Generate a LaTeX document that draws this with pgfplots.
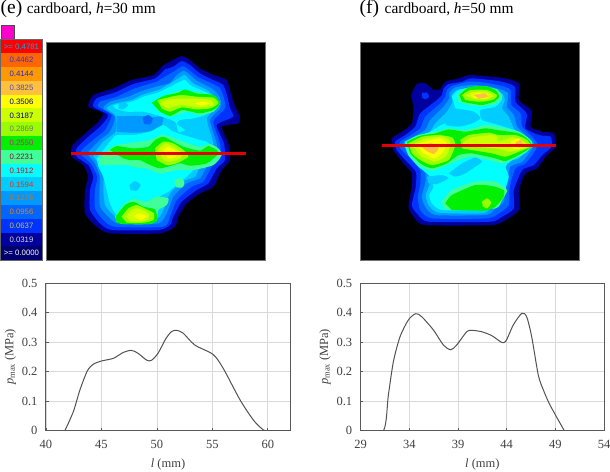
\documentclass[border=0pt]{standalone}
\usepackage{fontspec}
\setmainfont{Liberation Serif}
\newfontfamily\legfont{Liberation Sans}
\usepackage{pgfplots}
\pgfplotsset{compat=1.18}
\definecolor{c0}{HTML}{00006E}
\definecolor{c1}{HTML}{00009E}
\definecolor{c2}{HTML}{0033FF}
\definecolor{c3}{HTML}{0066FF}
\definecolor{c4}{HTML}{0099FF}
\definecolor{c5}{HTML}{00CCFF}
\definecolor{c6}{HTML}{00FFFF}
\definecolor{c7}{HTML}{40FF99}
\definecolor{c8}{HTML}{00F000}
\definecolor{c9}{HTML}{99FF00}
\definecolor{c10}{HTML}{CCFF00}
\definecolor{c11}{HTML}{FFFF00}
\definecolor{c12}{HTML}{FFC040}
\definecolor{c13}{HTML}{FF9900}
\definecolor{c14}{HTML}{FF6600}
\definecolor{c15}{HTML}{FF0000}
\definecolor{tbrown}{HTML}{C8741E}
\newcommand{\poly}[2]{\addplot[fill=#1,draw=none,forget plot,smooth,tension=0.35] coordinates {#2} --cycle;}
\newcommand{\band}[5]{\addplot[fill=#1,draw=none,forget plot] coordinates {(3,#2)(126,#2)(126,#3)(3,#3)} --cycle;
\node[font=\legfont\fontsize{7.8}{8}\selectfont,text=#5,inner sep=0pt] at (axis cs:64.5,{(#2+#3)/2}) {#4};}
\pgfplotsset{
 heat/.style={scale only axis,width=219pt,height=218.3pt,y dir=reverse,ymin=127,ymax=782,
  ticks=none,axis background/.style={fill=black},axis line style={draw=black!55,line width=0.8pt},clip=true},
 prof/.style={scale only axis,height=147.7pt,ymin=0,ymax=0.5,ytick={0,0.1,0.2,0.3,0.4,0.5},
  /pgf/number format/assume math mode=true,
  /pgf/number format/fixed,
  tick label style={font=\fontsize{12.5}{13}\selectfont,text=black!75},
  yticklabel style={xshift=-5pt},
  xticklabel style={yshift=-6pt},
  label style={font=\fontsize{12.5}{13}\selectfont,text=black!75},
  xlabel style={yshift=-3.5pt},
  ylabel style={yshift=-1pt},
  xmajorgrids,ymajorgrids,grid style={draw=black!15,line width=0.8pt},
  axis line style={draw=black!65,line width=1pt},
  tick style={draw=black!65,line width=0.7pt},tick align=inside,major tick length=2.5pt,
  xtick pos=bottom,ytick pos=left,
  ylabel={\textit{p}\raisebox{-1.5pt}{\fontsize{8.5}{9}\selectfont max} (MPa)},
  xlabel={\textit{l} (mm)}},
 pline/.style={draw=black!68,line width=1pt,smooth,tension=0.45,no marks}
}
\begin{document}
\begin{tikzpicture}
\useasboundingbox (0,0) rectangle (610pt,471pt);
% titles
\node[anchor=base west,inner sep=0pt,font=\fontsize{19.5}{20}\selectfont] at (0.5pt,457pt) {(e)};
\node[anchor=base west,inner sep=0pt,font=\fontsize{15.4}{16}\selectfont] at (26.7pt,457pt) {cardboard, \textit{h}=30 mm};
\node[anchor=base west,inner sep=0pt,font=\fontsize{19.5}{20}\selectfont] at (359.5pt,457pt) {(f)};
\node[anchor=base west,inner sep=0pt,font=\fontsize{15.4}{16}\selectfont] at (384.5pt,457pt) {cardboard, \textit{h}=50 mm};
% legend
\begin{axis}[at={(0pt,209.3pt)},anchor=south west,scale only axis,width=43.33pt,height=238.33pt,
 xmin=0,xmax=130,ymin=70,ymax=785,y dir=reverse,hide axis,clip=false]
\addplot[fill={rgb,255:red,255;green,0;blue,204},draw=black!70,line width=0.7pt,forget plot] coordinates {(3,77)(42,77)(42,118)(3,118)} --cycle;
\addplot[fill=black!60,draw=none,forget plot] coordinates {(0,117)(128,117)(128,782)(0,782)} --cycle;
\band{c15}{120}{160}{>= 0.4781}{cyan}
\band{c14}{160}{201}{0.4462}{blue!60!gray}
\band{c13}{201}{242}{0.4144}{blue!70!gray}
\band{c12}{242}{284}{0.3825}{blue!40!gray}
\band{c11}{284}{325}{0.3506}{blue!50!black}
\band{c10}{325}{367}{0.3187}{blue!50!black}
\band{c9}{367}{408}{0.2869}{black!55}
\band{c8}{408}{449}{0.2550}{magenta!90!black}
\band{c7}{449}{491}{0.2231}{purple!85!black}
\band{c6}{491}{532}{0.1912}{red!70!purple}
\band{c5}{532}{574}{0.1594}{red!70!orange}
\band{c4}{574}{615}{0.1275}{tbrown}
\band{c3}{615}{657}{0.0956}{orange!85!gray}
\band{c2}{657}{698}{0.0637}{yellow!50!gray}
\band{c1}{698}{739}{0.0319}{black!15}
\band{c0}{739}{780}{>= 0.0000}{white}
\end{axis}
% heat map (e)
\begin{axis}[heat,at={(46pt,210.3pt)},anchor=south west,xmin=138,xmax=795]
\poly{c1}{(515,182)(545,168)(570,180)(600,205)(640,225)(680,240)(695,290)(705,320)(720,350)(715,370)(665,380)(685,430)(690,480)(665,510)(640,560)(600,580)(560,610)(535,650)(525,680)(480,700)(330,700)(290,680)(255,640)(255,570)(265,530)(250,495)(215,470)(215,440)(250,405)(290,370)(310,340)(265,320)(280,285)(340,265)(395,240)(460,225)(490,195)}
\poly{c2}{(520,200)(545,183)(570,195)(600,220)(640,240)(670,255)(682,290)(690,325)(700,350)(650,375)(672,430)(675,480)(650,505)(625,550)(590,570)(545,605)(520,650)(510,675)(475,690)(335,690)(300,670)(270,630)(270,570)(280,530)(265,495)(230,470)(230,445)(265,410)(300,380)(325,345)(280,320)(290,295)(345,277)(400,252)(465,235)(495,208)}
\poly{c3}{(525,212)(548,198)(565,208)(595,232)(635,250)(660,265)(672,295)(675,325)(640,365)(660,430)(662,475)(635,500)(610,545)(575,560)(530,600)(510,650)(490,680)(345,680)(310,660)(285,625)(285,570)(292,530)(272,490)(245,465)(245,450)(285,415)(315,390)(335,345)(295,320)(300,305)(350,290)(405,265)(470,245)}
\poly{c4}{(530,225)(550,212)(565,220)(590,242)(630,262)(650,278)(662,300)(660,325)(630,360)(650,430)(650,470)(620,500)(600,535)(560,550)(520,590)(500,640)(475,670)(355,670)(325,650)(300,620)(298,570)(300,530)(285,490)(265,465)(265,455)(300,420)(330,395)(345,350)(310,325)(330,305)(385,290)(420,275)(475,258)(510,250)}
\poly{c5}{(540,232)(555,225)(580,250)(625,272)(640,290)(655,305)(650,325)(620,355)(640,430)(638,470)(605,490)(585,530)(545,545)(510,580)(490,630)(465,660)(365,660)(335,640)(315,615)(310,570)(310,530)(295,490)(280,465)(310,425)(345,398)(350,375)(345,345)(320,325)(340,312)(395,300)(425,285)(480,268)}
\poly{c4}{(350,348)(430,348)(455,352)(490,350)(480,385)(440,395)(400,398)(350,395)}
\poly{c3}{(428,352)(445,345)(458,355)(452,372)(432,372)}
\poly{c6}{(340,315)(395,305)(430,290)(480,275)(540,245)(555,240)(575,258)(625,280)(650,305)(645,325)(615,345)(580,355)(540,360)(530,372)(555,390)(535,395)(525,365)(470,345)(430,335)(380,335)(345,325)}
\poly{c6}{(290,475)(330,425)(350,405)(400,405)(450,395)(490,375)(520,395)(600,420)(620,425)(635,440)(640,470)(610,480)(580,510)(560,530)(530,555)(505,575)(480,590)(460,640)(440,655)(370,655)(345,640)(330,610)(320,570)(310,530)(295,500)}
\poly{c5}{(355,310)(370,305)(385,315)(370,328)(355,325)}
\poly{c5}{(388,555)(405,543)(422,555)(410,572)(392,570)}
\poly{c7}{(460,310)(490,290)(540,272)(580,275)(640,285)(660,310)(640,335)(600,345)(560,335)(510,350)(470,330)}
\poly{c7}{(295,478)(330,445)(350,435)(420,425)(450,420)(485,405)(510,410)(550,425)(600,440)(630,432)(655,445)(665,465)(640,495)(580,510)(530,510)(480,520)(440,505)(420,505)(380,495)(330,495)(300,495)}
\poly{c7}{(522,545)(538,533)(553,545)(548,562)(528,562)}
\poly{c7}{(345,650)(370,615)(400,597)(440,605)(470,590)(505,595)(500,615)(475,630)(470,660)(450,672)(370,672)(350,665)}
\poly{c8}{(330,450)(350,438)(400,445)(445,440)(465,420)(490,410)(520,425)(550,440)(600,452)(625,438)(650,450)(655,462)(620,490)(570,497)(540,490)(480,505)(440,490)(420,480)(390,480)(370,475)}
\poly{c8}{(455,308)(490,288)(535,278)(555,268)(590,280)(640,285)(660,310)(640,330)(600,340)(565,333)(545,330)(510,348)(480,335)}
\poly{c8}{(347,650)(375,615)(400,605)(430,620)(465,628)(472,660)(450,672)(375,672)(350,668)}
\poly{c9}{(465,445)(490,425)(520,430)(550,450)(565,470)(530,490)(500,495)(470,480)}
\poly{c9}{(472,300)(540,285)(590,290)(640,293)(655,310)(630,325)(590,328)(545,322)(510,335)(485,325)}
\poly{c9}{(365,650)(385,625)(410,615)(440,628)(462,640)(460,660)(430,668)(380,668)}
\poly{c10}{(475,450)(495,430)(520,440)(545,458)(540,475)(510,485)(490,480)}
\poly{c10}{(480,312)(505,298)(590,296)(630,300)(640,315)(600,322)(540,315)(505,325)}
\poly{c10}{(378,650)(395,630)(415,625)(445,640)(445,658)(420,665)(390,662)}
\poly{c11}{(490,450)(505,440)(530,455)(525,470)(505,475)}
\poly{c11}{(585,310)(605,305)(628,310)(605,317)}
\poly{c11}{(400,648)(420,640)(440,650)(420,660)}
\addplot[draw=red!90!black,line width=2.8pt,forget plot] coordinates {(213,460)(738,460)};
\end{axis}
% heat map (f)
\begin{axis}[heat,at={(360pt,210.3pt)},anchor=south west,xmin=165,xmax=820]
\poly{c1}{(405,268)(420,245)(460,235)(490,225)(540,228)(600,235)(640,250)(640,300)(665,320)(680,335)(675,380)(710,395)(745,400)(750,440)(720,470)(695,505)(660,520)(640,570)(640,630)(600,660)(560,675)(360,675)(325,650)(310,620)(320,560)(320,520)(295,490)(265,450)(260,415)(290,395)(320,370)(325,320)(318,285)(335,252)(360,250)(385,270)}
\poly{c2}{(350,278)(365,278)(372,290)(360,298)(350,292)}
\poly{c2}{(415,265)(430,252)(470,245)(495,235)(540,238)(590,245)(628,260)(630,305)(655,330)(665,345)(660,385)(700,405)(735,410)(738,440)(710,465)(685,495)(650,510)(625,570)(625,625)(590,650)(555,665)(370,665)(335,640)(320,615)(332,560)(332,515)(305,485)(275,450)(270,425)(300,405)(330,380)(345,340)(395,300)(410,285)}
\poly{c3}{(425,270)(440,258)(490,245)(540,248)(590,258)(615,270)(618,315)(645,340)(650,380)(680,410)(695,430)(690,450)(660,490)(630,505)(612,565)(610,615)(580,640)(545,655)(380,655)(345,630)(338,590)(345,555)(345,510)(315,475)(285,445)(285,425)(310,410)(345,385)(360,350)(405,310)(420,290)}
\poly{c4}{(432,278)(450,262)(495,255)(545,258)(585,268)(608,280)(605,320)(625,345)(635,380)(665,410)(685,430)(680,445)(650,485)(615,500)(600,560)(595,605)(565,630)(540,645)(390,645)(360,620)(350,590)(360,550)(360,520)(325,470)(295,440)(297,425)(325,410)(360,390)(375,360)(415,320)(432,295)}
\poly{c5}{(438,285)(455,270)(500,262)(550,265)(590,280)(598,300)(590,325)(610,350)(625,385)(650,410)(675,430)(670,445)(640,475)(605,490)(590,555)(585,600)(555,625)(530,640)(400,638)(370,615)(362,585)(375,550)(385,525)(345,505)(310,465)(300,435)(330,415)(370,400)(390,370)(425,335)(442,305)}
\poly{c6}{(440,290)(460,270)(510,262)(560,272)(590,295)(570,320)(525,330)(530,360)(580,375)(640,395)(680,425)(665,455)(620,480)(600,500)(610,530)(595,580)(575,615)(540,630)(410,630)(380,610)(372,585)(385,560)(370,525)(340,500)(310,465)(300,430)(335,410)(375,395)(420,370)(505,365)(505,335)(450,325)}
\poly{c5}{(445,335)(505,335)(525,355)(500,370)(460,380)(420,375)}
\poly{c5}{(470,490)(510,472)(530,485)(510,500)(480,520)(450,530)(430,520)}
\poly{c5}{(365,530)(410,525)(430,535)(395,552)(370,550)}
\poly{c7}{(300,425)(340,405)(390,395)(430,385)(480,390)(540,375)(580,380)(640,395)(675,420)(680,440)(640,470)(590,490)(560,482)(500,470)(460,480)(420,498)(380,512)(345,500)(310,465)}
\poly{c7}{(455,285)(480,265)(530,258)(575,268)(590,290)(570,312)(530,318)(490,315)(460,305)}
\poly{c7}{(410,605)(440,570)(510,545)(570,545)(605,570)(590,600)(570,625)(440,630)(415,625)}
\poly{c8}{(305,425)(345,407)(390,400)(430,388)(480,395)(540,385)(575,390)(640,400)(670,420)(678,440)(640,465)(600,483)(570,475)(500,460)(460,465)(425,490)(380,505)(345,490)(315,460)}
\poly{c8}{(462,285)(490,262)(540,258)(570,270)(582,290)(565,305)(530,315)(495,310)(470,305)}
\poly{c8}{(420,610)(440,585)(510,555)(560,558)(595,570)(595,590)(570,620)(540,632)(440,630)}
\poly{c9}{(310,430)(350,410)(400,405)(440,412)(450,435)(430,480)(380,495)(345,480)(320,460)}
\poly{c9}{(465,420)(490,405)(550,398)(580,405)(630,405)(665,420)(675,440)(640,455)(600,470)(560,460)(500,450)(470,445)}
\poly{c9}{(470,285)(495,270)(545,270)(575,285)(565,298)(530,305)(500,303)(480,300)}
\poly{c9}{(530,605)(545,595)(558,608)(545,625)(532,618)}
\poly{c10}{(320,435)(360,415)(410,410)(435,425)(425,465)(390,485)(350,470)}
\poly{c10}{(470,430)(500,412)(570,405)(580,425)(620,412)(655,425)(665,440)(640,450)(610,455)(575,445)(500,440)}
\poly{c10}{(480,285)(505,275)(545,275)(565,288)(540,298)(505,298)}
\poly{c11}{(335,435)(365,422)(405,415)(425,430)(410,460)(385,475)(355,460)}
\poly{c11}{(615,425)(640,415)(655,435)(640,447)(620,445)}
\poly{c11}{(495,285)(520,278)(550,285)(545,295)(510,295)}
\poly{c12}{(345,435)(380,430)(400,445)(385,462)(360,450)}
\poly{c12}{(630,428)(645,420)(655,437)(640,442)}
\poly{c12}{(505,285)(535,280)(550,290)(520,296)}
\addplot[draw=red!90!black,line width=2.8pt,forget plot] coordinates {(230,437)(750,437)};
\end{axis}
% profile (e)
\begin{axis}[prof,at={(46pt,40.3pt)},anchor=south west,width=244pt,xmin=40,xmax=62,xtick={40,45,50,55,60}]
\addplot[pline] coordinates {(41.7,0)(42.46,0.064)(43.06,0.138)(43.72,0.202)(44.26,0.225)(45,0.236)(46.07,0.245)(46.97,0.265)(47.7,0.272)(48.3,0.262)(49.07,0.239)(49.5,0.238)(50.1,0.262)(50.78,0.31)(51.3,0.335)(51.77,0.34)(52.37,0.33)(53.42,0.29)(55.07,0.258)(55.98,0.211)(57.5,0.104)(58.7,0.036)(59.43,0.008)(59.9,0)(62,0)};
\end{axis}
% profile (f)
\begin{axis}[prof,at={(360.7pt,40.3pt)},anchor=south west,width=243.3pt,xmin=29,xmax=54,xtick={29,34,39,44,49,54}]
\addplot[pline] coordinates {(29,0)(31.33,0)(31.84,0.12)(32.36,0.234)(33.04,0.318)(33.9,0.375)(34.65,0.396)(35.27,0.386)(36.47,0.341)(37.5,0.29)(38.25,0.274)(38.86,0.29)(39.89,0.335)(40.4,0.34)(41.43,0.335)(42.46,0.322)(43.49,0.299)(43.93,0.304)(44.68,0.358)(45.54,0.397)(46.05,0.386)(46.57,0.318)(47.25,0.188)(47.77,0.138)(48.45,0.087)(49.92,0)};
\end{axis}
\end{tikzpicture}
\end{document}
